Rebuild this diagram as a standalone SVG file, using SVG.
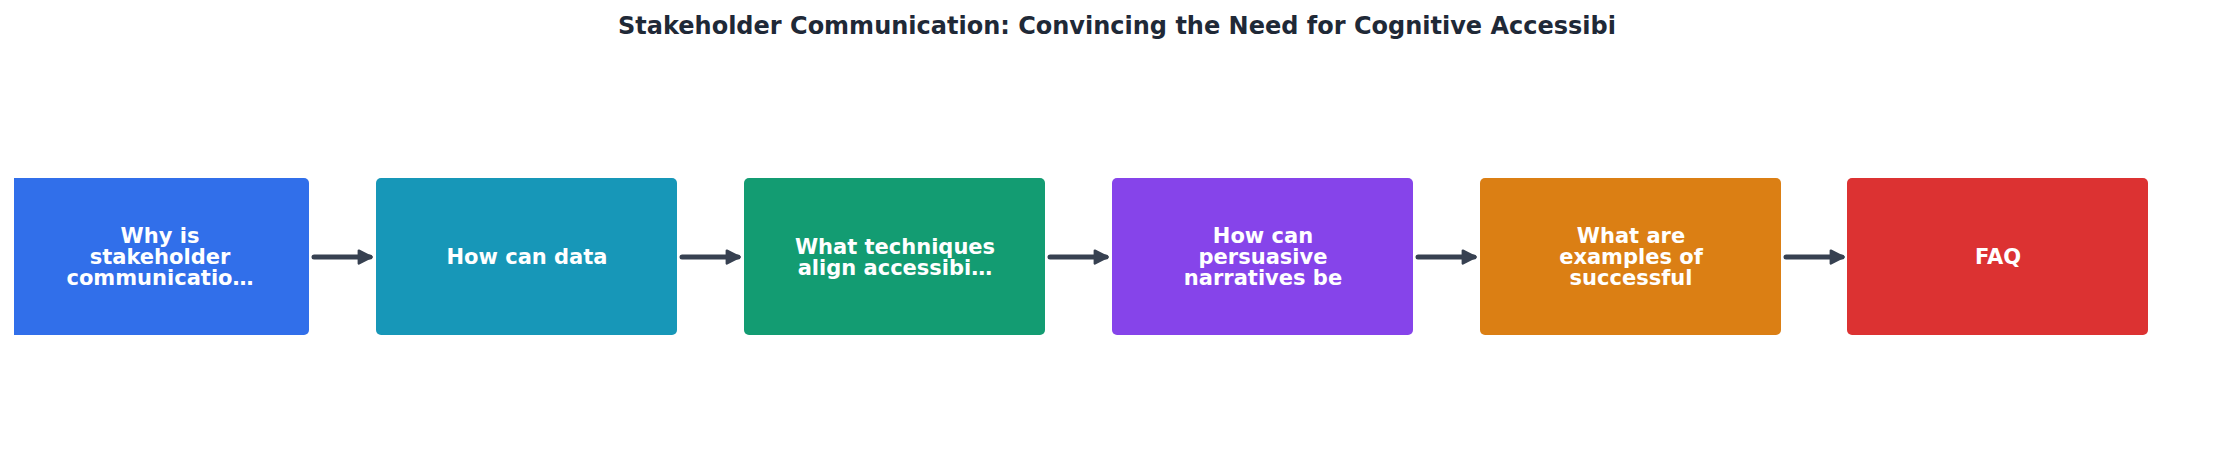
<svg xmlns="http://www.w3.org/2000/svg" width="2235" height="462" viewBox="0 0 2235 462">
<style>
.t{font-family:"DejaVu Sans",sans-serif;font-weight:bold;font-size:21px;fill:#fff;text-anchor:middle}
.c{stroke:#374151;stroke-width:5;stroke-linecap:round;fill:none}
</style>
<defs><marker id="a" viewBox="0 0 10 10" refX="8" refY="5" markerWidth="3.2" markerHeight="3.2" orient="auto"><path d="M1,1 L9,5 L1,9 Z" fill="#374151" stroke="#374151" stroke-width="1.5" stroke-linejoin="round"/></marker>
<clipPath id="cl"><rect x="14" y="0" width="2235" height="462"/></clipPath></defs>
<rect width="2235" height="462" fill="#fff"/>
<text x="1117" y="34" style="font-family:'DejaVu Sans',sans-serif;font-weight:bold;font-size:24px;fill:#1f2937;text-anchor:middle">Stakeholder Communication: Convincing the Need for Cognitive Accessibi</text>
<g id="connectors">
<path class="c" marker-end="url(#a)" d="M314 257H370"/>
<path class="c" marker-end="url(#a)" d="M682 257H738"/>
<path class="c" marker-end="url(#a)" d="M1050 257H1106"/>
<path class="c" marker-end="url(#a)" d="M1418 257H1474"/>
<path class="c" marker-end="url(#a)" d="M1786 257H1842"/>
</g>
<g id="n1"><rect x="8" y="178" width="301" height="157" rx="5" fill="#316fea" clip-path="url(#cl)"/><text class="t" x="160"><tspan x="160" y="243">Why is</tspan><tspan x="160" y="264">stakeholder</tspan><tspan x="160" y="285">communicatio…</tspan></text></g>
<g id="n2"><rect x="376" y="178" width="301" height="157" rx="5" fill="#1797b8"/><text class="t" x="527" y="264">How can data</text></g>
<g id="n3"><rect x="744" y="178" width="301" height="157" rx="5" fill="#139c72"/><text class="t"><tspan x="895" y="254">What techniques</tspan><tspan x="895" y="275">align accessibi…</tspan></text></g>
<g id="n4"><rect x="1112" y="178" width="301" height="157" rx="5" fill="#8644ea"/><text class="t"><tspan x="1263" y="243">How can</tspan><tspan x="1263" y="264">persuasive</tspan><tspan x="1263" y="285">narratives be</tspan></text></g>
<g id="n5"><rect x="1480" y="178" width="301" height="157" rx="5" fill="#db7f14"/><text class="t"><tspan x="1631" y="243">What are</tspan><tspan x="1631" y="264">examples of</tspan><tspan x="1631" y="285">successful</tspan></text></g>
<g id="n6"><rect x="1847" y="178" width="301" height="157" rx="5" fill="#dc3232"/><text class="t" x="1998" y="264">FAQ</text></g>
</svg>
